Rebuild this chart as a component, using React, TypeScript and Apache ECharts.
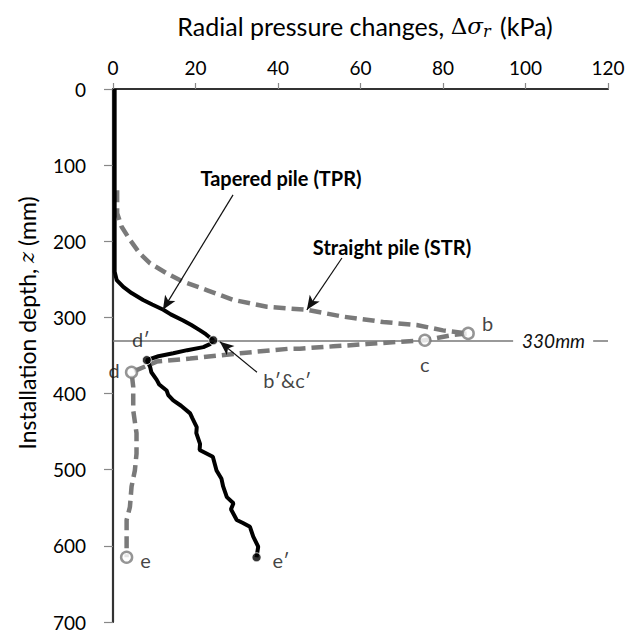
import React, { useEffect, useRef } from "react";
import * as echarts from "echarts";

// Straight pile (STR) – radial pressure change (kPa) vs installation depth (mm)
const strPressure = [1.0, 1.0, 2.1, 4.1, 6.5, 9, 13, 17, 22.7, 29.2, 37.3, 47, 55.8, 65.5, 73.6, 80, 86.1, 82.4, 75.6, 69.6, 61.5, 53.4, 45.3, 42.9, 30.8, 18.7, 10.6, 4.5, 4.9, 4.9, 5.7, 5.7, 5.3, 4.5, 4.1, 3.3, 3.3, 3.3];
const strDepth = [133, 163, 181, 198, 216, 229, 242, 253, 264, 277, 286, 290, 299, 306, 310, 317, 321, 323, 330, 332, 335, 338, 341, 341, 347, 354, 358, 372, 391, 422, 452, 479, 501, 522, 549, 566, 592, 615];

// Tapered pile (TPR)
const tprPressure = [0.4, 0.4, 0.9, 2.5, 4.5, 7.3, 9.5, 12.2, 14, 17, 19, 21.1, 22.5, 24.3, 23.5, 21.9, 18, 14.6, 11, 8.2, 8.6, 9, 9.3, 10.6, 11.2, 13, 13.4, 14.6, 16.5, 18.7, 19.2, 20.3, 20.2, 21.1, 21, 24.2, 25.1, 26.3, 26.7, 27.6, 29.2, 28.6, 30, 31.5, 33.2, 34, 35.2, 34.8];
const tprDepth = [0, 240, 251, 260, 268, 277, 283, 290, 296, 304, 310, 317, 322, 330, 335, 339, 343, 347, 351, 356, 360, 365, 372, 382, 388, 396, 402, 409, 416, 426, 432, 444, 452, 466, 474, 483, 501, 512, 522, 536, 544, 552, 566, 570, 575, 588, 601, 615];

// Key points
const strMarkerNames = ["b", "c", "d", "e"];
const strMarkerPressure = [86.1, 75.6, 4.5, 3.3];
const strMarkerDepth = [321, 330, 372, 615];

const tprMarkerNames = ["b\u2032&c\u2032", "d\u2032", "e\u2032"];
const tprMarkerPressure = [24.3, 8.2, 34.8];
const tprMarkerDepth = [330, 356, 615];

const refDepth = 330;
const refLabel = "330mm";

const xTicks = { min: 0, max: 120, interval: 20 };
const yTicks = { min: 0, max: 700, interval: 100 };

const FONT = "Lato";

export default function App() {
  const ref = useRef<HTMLDivElement>(null);
  useEffect(() => {
    if (!ref.current) return;
    const chart = echarts.init(ref.current, null, { renderer: "svg" });

    const strData = strPressure.map((p, i) => [p, strDepth[i]]);
    const tprData = tprPressure.map((p, i) => [p, tprDepth[i]]);

    const strLabelLayout: any[] = [
      { position: "right", offset: [2, -10] },
      { position: "bottom", offset: [0, 2] },
      { position: "left", offset: [0, -2] },
      { position: "right", offset: [2, 3] },
    ];
    const tprLabelLayout: any[] = [
      { position: "right", offset: [40, 40] },
      { position: "top", offset: [-6, -1] },
      { position: "right", offset: [6, 3] },
    ];

    const labelFont = { fontFamily: FONT, fontSize: 19, color: "#000" };

    const option: any = {
      animation: false,
      textStyle: { fontFamily: FONT },
      title: {
        text: "Radial pressure changes, {m|\u0394}{s|\u03c3}{r|r} (kPa)",
        left: 360,
        textAlign: "center",
        top: 8,
        textStyle: {
          fontFamily: FONT,
          fontSize: 25,
          fontWeight: "normal",
          color: "#000",
          rich: {
            m: { fontFamily: "DejaVu Serif", fontSize: 23, color: "#000" },
            s: { fontFamily: "DejaVu Serif", fontStyle: "italic", fontSize: 23, color: "#000" },
            r: { fontFamily: "DejaVu Serif", fontStyle: "italic", fontSize: 16, color: "#000", padding: [10, 3, 0, 0] },
          },
        },
      },
      grid: { left: 113, right: 32, top: 89, bottom: 13 },
      xAxis: [
        {
          type: "value",
          position: "top",
          ...xTicks,
          axisLine: { show: true, lineStyle: { color: "#888", width: 1.5 } },
          axisTick: { show: true, length: 6, lineStyle: { color: "#888", width: 1.2 } },
          axisLabel: { ...labelFont, margin: 12 },
          splitLine: { show: false },
        },
        {
          type: "value",
          position: "bottom",
          ...xTicks,
          axisLine: { show: true, lineStyle: { color: "#333", width: 2 } },
          axisTick: { show: false },
          axisLabel: { show: false },
          splitLine: { show: false },
        },
      ],
      yAxis: [
        {
          type: "value",
          inverse: true,
          ...yTicks,
          axisLine: { show: true, lineStyle: { color: "#888", width: 1.5 } },
          axisTick: { show: true, length: 9, lineStyle: { color: "#888", width: 1.2 } },
          axisLabel: { ...labelFont, margin: 27 },
          splitLine: { show: false },
        },
        {
          type: "value",
          inverse: true,
          position: "right",
          ...yTicks,
          axisLine: { show: true, lineStyle: { color: "#333", width: 2.2 } },
          axisTick: { show: false },
          axisLabel: { show: false },
          splitLine: { show: false },
        },
      ],
      graphic: [
        {
          type: "text",
          x: 27,
          y: 323,
          rotation: Math.PI / 2,
          style: {
            text: "Installation depth, {z|z} (mm)",
            fontFamily: FONT,
            fontSize: 23,
            fill: "#000",
            align: "center",
            verticalAlign: "middle",
            rich: {
              z: { fontFamily: "DejaVu Serif", fontStyle: "italic", fontSize: 21, color: "#000" },
            },
          },
        },
        {
          type: "text",
          x: 281,
          y: 178,
          style: {
            text: "Tapered pile (TPR)",
            fontFamily: FONT,
            fontWeight: "bold",
            fontSize: 20,
            fill: "#000",
            align: "center",
            verticalAlign: "middle",
          },
        },
        {
          type: "text",
          x: 392,
          y: 247,
          style: {
            text: "Straight pile (STR)",
            fontFamily: FONT,
            fontWeight: "bold",
            fontSize: 20,
            fill: "#000",
            align: "center",
            verticalAlign: "middle",
          },
        },
      ],
      series: [
        {
          name: "ref",
          type: "line",
          data: [],
          silent: true,
          markLine: {
            silent: true,
            symbol: ["none", "none"],
            lineStyle: { color: "#777", width: 1.5, type: "solid" },
            label: { show: false },
            data: [
              [{ coord: [0, refDepth] }, { coord: [97, refDepth] }],
              [{ coord: [116.4, refDepth] }, { coord: [120, refDepth] }],
            ],
          },
          markPoint: {
            symbol: "circle",
            symbolSize: 0,
            label: {
              show: true,
              position: "inside",
              formatter: refLabel,
              fontFamily: FONT,
              fontStyle: "italic",
              fontSize: 19,
              color: "#111",
            },
            data: [{ coord: [106.8, refDepth] }],
          },
        },
        {
          name: "Straight pile (STR)",
          type: "line",
          data: strData,
          showSymbol: false,
          lineStyle: { color: "#7a7a7a", width: 4.5, type: [12, 6], cap: "butt" },
          z: 3,
          markLine: {
            silent: true,
            symbol: ["none", "arrow"],
            symbolSize: [9, 14],
            lineStyle: { color: "#111", width: 1.2, type: "solid" },
            label: { show: false },
            data: [[{ coord: [55.5, 222] }, { coord: [47, 290] }]],
          },
        },
        {
          name: "Tapered pile (TPR)",
          type: "line",
          data: tprData,
          showSymbol: false,
          lineStyle: { color: "#000", width: 4 },
          z: 4,
          markLine: {
            silent: true,
            symbol: ["none", "arrow"],
            symbolSize: [9, 14],
            lineStyle: { color: "#111", width: 1.2, type: "solid" },
            label: { show: false },
            data: [
              [{ coord: [29.1, 139] }, { coord: [12.1, 290] }],
              [{ coord: [34.9, 372] }, { coord: [25.9, 332] }],
            ],
          },
        },
        {
          name: "STR points",
          type: "scatter",
          z: 5,
          symbolSize: 11,
          itemStyle: { color: "#fff", borderColor: "#7a7a7a", borderWidth: 2.5 },
          data: strMarkerNames.map((n, i) => ({
            value: [strMarkerPressure[i], strMarkerDepth[i]],
            label: {
              show: true,
              formatter: n,
              ...strLabelLayout[i],
              fontFamily: FONT,
              fontSize: 20,
              color: "#111",
            },
          })),
        },
        {
          name: "TPR points",
          type: "scatter",
          z: 6,
          symbolSize: 9,
          itemStyle: { color: "#000", borderColor: "#fff", borderWidth: 1 },
          data: tprMarkerNames.map((n, i) => ({
            value: [tprMarkerPressure[i], tprMarkerDepth[i]],
            label: {
              show: true,
              formatter: n,
              ...tprLabelLayout[i],
              fontFamily: FONT,
              fontSize: 20,
              color: "#111",
            },
          })),
        },
      ],
    };
    chart.setOption(option);
    return () => chart.dispose();
  }, []);
  return (
    <div
      ref={ref}
      style={{ position: "fixed", left: 0, top: 0, width: 640, height: 635, background: "#fff" }}
    />
  );
}
